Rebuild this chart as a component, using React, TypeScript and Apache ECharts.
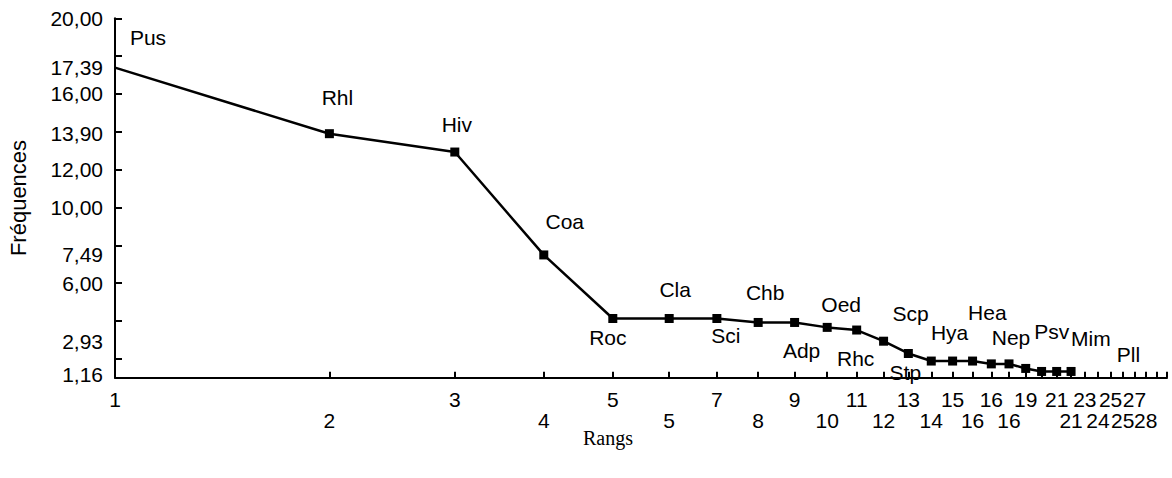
import React, { useEffect, useRef } from "react";
import * as echarts from "echarts";

// Rank positions (x) and observed frequencies (y) of the plotted taxa
const positions = [1, 2, 3, 4, 5, 6, 7, 8, 9, 10, 11, 12, 13, 14, 15, 16, 17, 18, 19, 20, 21, 22];
const frequencies = [17.39, 13.9, 12.93, 7.49, 4.13, 4.13, 4.13, 3.92, 3.92, 3.66, 3.52, 2.93, 2.28, 1.88, 1.88, 1.88, 1.73, 1.73, 1.49, 1.33, 1.33, 1.33];
const taxa = ["Pus", "Rhl", "Hiv", "Coa", "Roc", "Cla", "Sci", "Chb", "Adp", "Oed", "Rhc", "Scp", "Stp", "", "Hya", "", "Hea", "Nep", "", "", "Psv", ""];

// Tail taxa (no visible marks in the figure, only their names)
const tailPositions = [23, 24, 25, 26, 27, 28];
const tailFrequencies = [1.3, 1.26, 1.22, 1.22, 1.19, 1.16];
const tailTaxa = ["Mim", "", "", "", "Pll", ""];

// X axis: tick positions and the (tied) rank labels written under them
const xTickValues = [1, 2, 3, 4, 5, 6, 7, 8, 9, 10, 11, 12, 13, 14, 15, 16, 17, 18, 19, 20, 21, 22, 23, 24, 25, 26, 27, 28, 29, 30];
const xLabelValues = [1, 2, 3, 4, 5, 6, 7, 8, 9, 10, 11, 12, 13, 14, 15, 16, 17, 18, 19, 20, 21, 22, 23, 24, 25, 26, 27, 28, 29, 30];
const rankLabels = ["1", "2", "3", "4", "5", "5", "7", "8", "9", "10", "11", "12", "13", "14", "15", "16", "16", "16", "19", "", "21", "21", "23", "24", "25", "25", "27", "28", "", ""];

// Y axis ticks and labelled values
const yTickValues = [2, 4, 6, 8, 10, 12, 14, 16, 18, 20];
const yLabelValues = [1.16, 2.93, 6, 7.49, 10, 12, 13.9, 16, 17.39, 20];

const FONT = "'Liberation Sans', Arial, Helvetica, sans-serif";

// label placement (pixel offsets from the point)
const labelOffsets: Record<string, [number, number]> = {
  Pus: [33, -30],
  Rhl: [8, -36],
  Hiv: [2, -28],
  Coa: [21, -33],
  Roc: [-5, 19],
  Cla: [6, -29],
  Sci: [9, 17],
  Chb: [7, -30],
  Adp: [7, 28],
  Oed: [14, -23],
  Rhc: [-1, 28],
  Scp: [27, -28],
  Stp: [-3, 19],
  Hya: [-3, -29],
  Hea: [-4, -51],
  Nep: [2, -26],
  Psv: [-5, -40],
  Mim: [6, -34],
  Pll: [-6, -20],
};

function buildItems(xs: number[], ys: number[], names: string[], hideFirst: boolean) {
  return xs.map((x, i) => {
    const name = names[i];
    const off = labelOffsets[name] || [0, 0];
    const item: any = {
      value: [x, ys[i]],
      label: { show: name !== "", offset: off },
    };
    if (hideFirst && i === 0) item.itemStyle = { color: "rgba(0,0,0,0)" };
    return item;
  });
}

export default function App() {
  const ref = useRef<HTMLDivElement>(null);
  useEffect(() => {
    if (!ref.current) return;
    const chart = echarts.init(ref.current, undefined, { renderer: "svg" });
    const labelStyle = {
      show: true,
      position: "inside",
      align: "center",
      verticalAlign: "middle",
      color: "#000",
      fontSize: 21,
      fontFamily: FONT,
    };
    chart.setOption({
      animation: false,
      backgroundColor: "#fff",
      grid: { left: 115, right: 5, top: 18.3, bottom: 100.3, containLabel: false, outerBoundsMode: "none" },
      xAxis: {
        type: "log",
        min: 1,
        max: 30,
        logBase: 10,
        axisLine: { show: true, lineStyle: { color: "#000", width: 2 } },
        axisTick: { show: true, inside: true, length: 6, customValues: xTickValues, lineStyle: { color: "#000", width: 2 } },
        axisLabel: {
          show: true,
          customValues: xLabelValues,
          margin: 11,
          color: "#000",
          fontSize: 21,
          lineHeight: 21,
          fontFamily: FONT,
          hideOverlap: false,
          formatter: (v: number) => {
            const i = Math.round(v) - 1;
            const t = rankLabels[i] ?? "";
            return i % 2 === 1 ? "\n" + t : t;
          },
        },
        splitLine: { show: false },
        minorTick: { show: false },
        minorSplitLine: { show: false },
      },
      yAxis: {
        type: "value",
        min: 1,
        max: 20,
        name: "Fréquences",
        nameLocation: "middle",
        nameRotate: 90,
        nameGap: 86,
        nameTextStyle: { color: "#000", fontSize: 22, fontFamily: FONT },
        axisLine: { show: true, lineStyle: { color: "#000", width: 2 } },
        axisTick: { show: true, inside: true, length: 7, customValues: yTickValues, lineStyle: { color: "#000", width: 2 } },
        axisLabel: {
          show: true,
          customValues: yLabelValues,
          margin: 12,
          color: "#000",
          fontSize: 21,
          fontFamily: FONT,
          showMinLabel: true,
          showMaxLabel: true,
          formatter: (v: number) => v.toFixed(2).replace(".", ","),
        },
        splitLine: { show: false },
      },
      graphic: [
        {
          type: "text",
          x: 608,
          y: 438,
          style: {
            text: "Rangs",
            fill: "#000",
            font: "20px 'Liberation Serif', 'Times New Roman', serif",
            textAlign: "center",
            textVerticalAlign: "middle",
          },
        },
      ],
      series: [
        {
          type: "line",
          data: buildItems(positions, frequencies, taxa, true),
          symbol: "rect",
          symbolSize: 9,
          itemStyle: { color: "#000" },
          lineStyle: { color: "#000", width: 2.5 },
          label: { ...labelStyle, formatter: (p: any) => taxa[p.dataIndex] },
          z: 3,
        },
        {
          type: "line",
          data: buildItems(tailPositions, tailFrequencies, tailTaxa, false),
          symbol: "circle",
          symbolSize: 1,
          itemStyle: { color: "rgba(0,0,0,0)" },
          lineStyle: { opacity: 0 },
          label: { ...labelStyle, formatter: (p: any) => tailTaxa[p.dataIndex] },
          z: 2,
        },
      ],
    });
    return () => chart.dispose();
  }, []);
  return <div ref={ref} style={{ position: "absolute", left: 0, top: 0, width: 1172, height: 478 }} />;
}
